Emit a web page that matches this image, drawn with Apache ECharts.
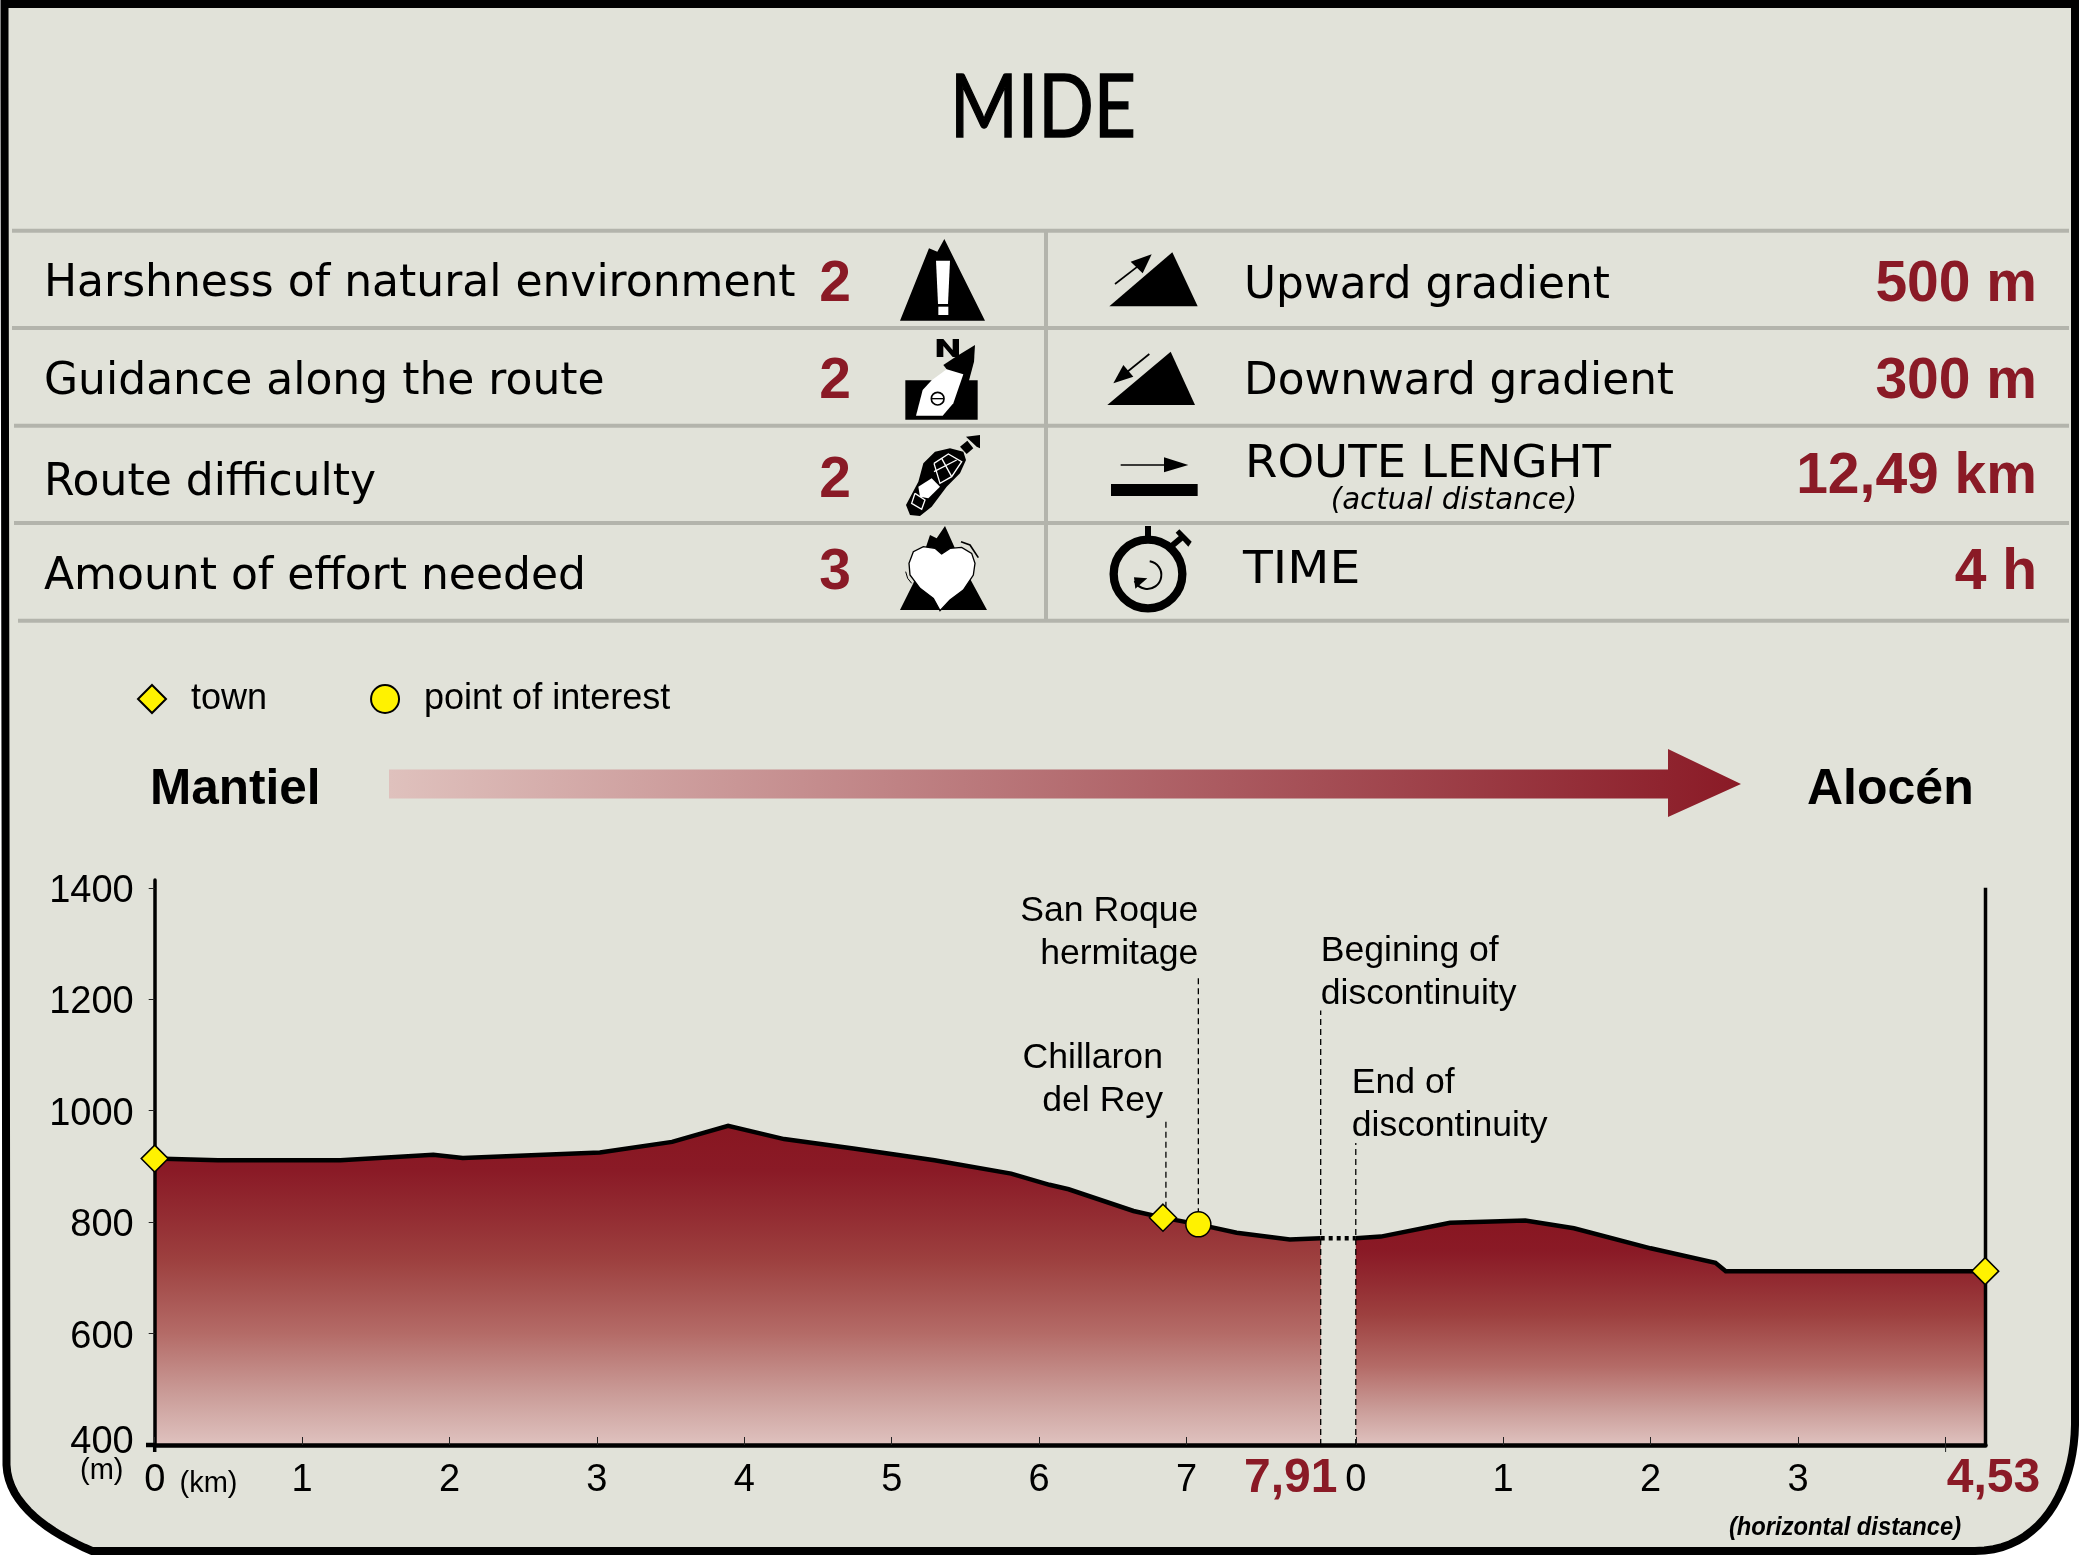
<!DOCTYPE html>
<html><head><meta charset="utf-8">
<style>html,body{margin:0;padding:0;background:#fff}#c{width:2079px;height:1556px}</style>
<script src="https://cdn.jsdelivr.net/npm/echarts@6/dist/echarts.min.js"></script>
</head><body><div id="c"></div>
<script>
// ---------- data ----------
const titleText = 'MIDE';
const mideLabels = ['Harshness of natural environment','Guidance along the route','Route difficulty','Amount of effort needed'];
const mideValues = ['2','2','2','3'];
const routeLabels = ['Upward gradient','Downward gradient','ROUTE LENGHT','TIME'];
const routeNote = '(actual distance)';
const routeValues = ['500 m','300 m','12,49 km','4 h'];
const startTown = 'Mantiel';
const endTown = 'Alocén';
const yTicks = [400,600,800,1000,1200,1400];
const firstKm  = [0,0.43,1.26,1.89,2.09,3.02,3.51,3.89,4.27,4.74,5.29,5.81,6.07,6.2,6.64,6.84,7.08,7.34,7.7,7.91];
const firstElev= [914,911,911,921,915,925,944,973,949,932,911,887,867,859,820,808,796,781,769,771];
const secondKm  = [0,0.17,0.64,1.15,1.48,2.0,2.44,2.51,4.27];
const secondElev= [771,774,799,803,789,753,727,712,712];
const firstEndLabel = '7,91';
const secondEndLabel = '4,53';
const secondOffset = 8.148;          // gap between both stretches on the shared axis
const kmTicksFirst = [0,1,2,3,4,5,6,7];
const kmTicksSecond = [0,1,2,3,4];
const kmLabelsSecond = [0,1,2,3];
const towns = [[0,914],[6.84,808],[12.418,712]];
const pois = [[7.08,796]];
const notes = [
  {text:'Chillaron\ndel Rey', km:6.86, top:981, base:808, side:'right', dx:-3, dy:9},
  {text:'San Roque\nhermitage', km:7.08, top:1238, base:796, side:'right', dx:0, dy:5},
  {text:'Begining of\ndiscontinuity', km:7.91, top:1180, base:400, side:'left', dx:0, dy:13},
  {text:'End of\ndiscontinuity', km:8.148, top:942, base:400, side:'left', dx:-4, dy:12}
];
// ---------- style ----------
const BG='#e1e2d9', MAROON='#8a1a26', LINE='#b3b4ac', YEL='#fff200';
const ARIAL='"Liberation Sans",Arial,sans-serif', DV='"DejaVu Sans",Verdana,sans-serif';
const X0=154.7, X1=1985.5, YT=880, YB=1445;
const xEnd=12.42, yMin=400, yMax=1414;

function txt(x,base,s,size,o){o=o||{};return {type:'text',x:x,y:base+4.5-0.35*size,scaleX:o.sx||1,z:3,style:{text:s,fill:o.fill||'#000',
  font:(o.style||'')+' '+(o.weight||'normal')+' '+size+'px '+(o.family||DV),textAlign:o.align||'left',textVerticalAlign:'middle',verticalAlign:'middle'}};}
function bez(p0,c1,c2,p3,n){const r=[];for(let i=1;i<=n;i++){const t=i/n,u=1-t;r.push([
  u*u*u*p0[0]+3*u*u*t*c1[0]+3*u*t*t*c2[0]+t*t*t*p3[0],
  u*u*u*p0[1]+3*u*u*t*c1[1]+3*u*t*t*c2[1]+t*t*t*p3[1]]);}return r;}
const framePts=[[4.5,4],[2075,4],[2075,1425]]
  .concat(bez([2075,1425],[2074,1490],[2040,1551],[1975,1551],20))
  .concat([[92,1551]])
  .concat(bez([92,1551],[50,1533],[8,1505],[6.5,1465],16))
  .concat([[4.5,88]]);
const P=(pts,fill,extra)=>Object.assign({type:'polygon',shape:{points:pts},style:{fill:fill||'#000'}},extra||{});
const L=(pts,w,col)=>({type:'polyline',shape:{points:pts},style:{fill:null,stroke:col||'#000',lineWidth:w}});
const icons={type:'group',x:860,y:230,scaleX:1/3,scaleY:1/3,z:3,children:[
  // harshness
  P([[120,272],[207,55],[232,65],[253,27],[375,272]]),
  P([[228,92],[270,92],[264,222],[234,222]],'#fff'),P([[235,230],[265,230],[265,255],[235,255]],'#fff'),
  // guidance
  P([[136,451],[353,451],[353,569],[136,569]]),
  P([[345,345],[342,395],[322,470],[260,418],[250,405],[285,382]]),
  P([[215,451],[260,418],[310,433],[280,520],[248,557],[168,557],[188,480]],'#fff'),
  {type:'circle',shape:{cx:233,cy:506,r:19},style:{fill:null,stroke:'#000',lineWidth:5}},L([[215,506],[251,506]],4),
  P([[230,327],[250,327],[278,360],[278,327],[297,327],[297,381],[278,381],[250,348],[250,381],[230,381]]),
  // difficulty
  P([[138,825],[175,755],[190,700],[225,665],[270,655],[310,665],[318,690],[300,730],[260,770],[215,830],[180,858],[150,855]]),
  P([[300,650],[322,632],[340,655],[320,672]]),P([[318,620],[360,615],[360,655],[350,650]]),
  P([[175,770],[215,745],[240,770],[205,805],[180,800]],'#fff'),
  L([[222,700],[265,672],[305,695],[275,740],[240,760],[222,700]],4,'#fff'),L([[245,685],[275,740]],4,'#fff'),L([[222,725],[290,690]],4,'#fff'),
  L([[165,790],[195,810],[185,838],[155,820],[165,790]],4,'#fff'),
  // effort
  P([[120,1140],[160,1060],[200,945],[210,915],[230,925],[255,888],[305,1000],[381,1140]]),
  {type:'polygon',shape:{points:[[245,972],[225,955],[190,950],[160,965],[147,1000],[150,1035],[180,1075],[220,1105],[240,1142],[270,1110],[310,1080],[340,1035],[345,1000],[335,970],[305,952],[270,955]]},style:{fill:'#fff',stroke:'#000',lineWidth:4}},
  L([[303,935],[330,945],[355,983]],5),L([[137,1025],[143,1045],[155,1060]],3),
  // upward
  P([[748,229],[937,67],[1013,229]]),L([[765,162],[845,100]],5),P([[875,73],[812,95],[848,130]]),
  // downward
  P([[742,525],[932,365],[1005,525]]),L([[868,372],[790,435]],5),P([[760,460],[790,405],[820,440]]),
  // length
  L([[782,705],[915,705]],5),P([[912,682],[985,705],[912,727]]),P([[753,762],[1013,762],[1013,798],[753,798]]),
  // time
  {type:'circle',shape:{cx:864,cy:1032,r:103},style:{fill:null,stroke:'#000',lineWidth:25}},
  P([[855,888],[873,888],[873,925],[855,925]]),L([[935,948],[968,920]],18),
  P([[947,908],[958,898],[995,935],[985,950]]),
  {type:'arc',shape:{cx:862,cy:1035,r:42,startAngle:-1.4,endAngle:2.7},style:{fill:null,stroke:'#000',lineWidth:6}},
  P([[822,1042],[862,1045],[826,1076]])
]};
const rowsY=[230.7,328,425.7,523,620.7];
const tableLines=rowsY.map((y,i)=>({type:'line',z:1,shape:{x1:[12,12,14,14,18][i],y1:y,x2:2069,y2:y},style:{stroke:LINE,lineWidth:4}}));
tableLines.push({type:'line',z:1,shape:{x1:1046,y1:230,x2:1046,y2:620},style:{stroke:LINE,lineWidth:4}});
const leftBase=[295,393,494,588], rightBase=[297.7,393.3,476.7,582], valBaseL=[301,397.7,497,589], valBaseR=[301,397.7,492.7,589];
const rightX=[1244,1244,1245,1243], rightSx=[0.995,0.995,1.06,1.11];
const graphicEls=[
  P(framePts,BG,{z:-2,style:{fill:BG,stroke:'#000',lineWidth:8}}),
  {type:'group',x:1043,y:139-0.35*88,scaleX:0.83,scaleY:1,z:3,children:[{type:'text',x:0,y:0,style:{text:titleText,font:'88px Lato,sans-serif',fill:'#000',stroke:'#000',lineWidth:1.5,textAlign:'center',textVerticalAlign:'middle',verticalAlign:'middle'}}]}
].concat(tableLines,[icons]);
mideLabels.forEach((s,i)=>{graphicEls.push(txt(44,leftBase[i],s,44));graphicEls.push(txt(835,valBaseL[i],mideValues[i],57,{family:ARIAL,weight:'bold',fill:MAROON,align:'center'}));});
routeLabels.forEach((s,i)=>{graphicEls.push(txt(rightX[i],rightBase[i],s,44,{sx:rightSx[i]}));graphicEls.push(txt(2037,valBaseR[i],routeValues[i],57,{family:ARIAL,weight:'bold',fill:MAROON,align:'right'}));});
graphicEls.push(txt(1454,506.7,routeNote,29.3,{style:'italic',align:'center'}));
graphicEls.push(txt(150,802.7,startTown,49.5,{family:ARIAL,weight:'bold'}));
graphicEls.push(txt(1807,803.5,endTown,50,{family:ARIAL,weight:'bold'}));
graphicEls.push({type:'polygon',z:1,shape:{points:[[389,769.5],[1668,769.5],[1668,749],[1741,784],[1668,817],[1668,798.5],[389,798.5]]},
  style:{fill:{type:'linear',x:0,y:0,x2:1,y2:0,colorStops:[{offset:0,color:'#dfc1bd'},{offset:1,color:MAROON}]}}});
graphicEls.push(txt(80,1476.7,'(m)',29,{family:ARIAL}));
graphicEls.push(txt(179.5,1490,'(km)',29,{family:ARIAL}));
graphicEls.push(txt(1845,1532,'(horizontal distance)',25,{family:ARIAL,weight:'bold',style:'italic',align:'center',sx:0.95}));
graphicEls.push({type:'line',z:9,shape:{x1:146,y1:1445,x2:155,y2:1445},style:{stroke:'#000',lineWidth:4.5}});
graphicEls.push({type:'line',z:9,shape:{x1:154.7,y1:1445,x2:154.7,y2:1452},style:{stroke:'#000',lineWidth:3.5}});
graphicEls.push({type:'line',z:9,shape:{x1:1945.6,y1:1445,x2:1945.6,y2:1452},style:{stroke:'#222',lineWidth:1}});

const areaStops=[[0,'#881621'],[0.14,'#8a1a26'],[0.28,'#932c32'],[0.42,'#9d403f'],[0.65,'#b46b67'],[0.84,'#ca9c98'],[1,'#dfc2bf']];
const areaSeries=(name,xs,ys,off)=>({type:'line',name:name,symbol:'none',z:3,animation:false,
  data:xs.map((x,i)=>[x+off,ys[i]]),lineStyle:{color:'#000',width:4.5,join:'miter'},
  areaStyle:{origin:'start',opacity:1,color:{type:'linear',x:0,y:0,x2:0,y2:1,colorStops:areaStops.map(s=>({offset:s[0],color:s[1]}))}}});
const series=[
  areaSeries('first',firstKm,firstElev,0),
  areaSeries('second',secondKm,secondElev,secondOffset),
  {type:'line',name:'gap',symbol:'none',z:3,data:[[7.91,firstElev[firstElev.length-1]],[secondOffset,secondElev[0]]],lineStyle:{color:'#000',width:4.5,type:[4,4]}},
  {type:'line',name:'end',symbol:'none',z:4,data:[[xEnd,400],[xEnd,1400]],lineStyle:{color:'#000',width:3.5},clip:false}
];
notes.forEach(n=>series.push({type:'line',name:'leader '+n.km,symbol:'none',z:4,data:[[n.km,n.base],[n.km,n.top]],lineStyle:{color:'#000',width:1.3,type:[6,4]}}));
series.push({type:'scatter',name:'notes',z:5,symbolSize:1,clip:false,itemStyle:{color:'transparent',opacity:1},silent:true,
  data:notes.map(n=>({value:[n.km,n.top],label:{show:true,position:'top',formatter:n.text,align:n.side,distance:7,offset:[n.dx,n.dy],
    fontFamily:ARIAL,fontSize:35.6,lineHeight:43,color:'#000'}})).concat([
    {value:[7.91,400],label:{show:true,position:'bottom',formatter:firstEndLabel,align:'center',offset:[-30,0],distance:9,fontFamily:ARIAL,fontWeight:'bold',fontSize:48,color:MAROON}},
    {value:[xEnd,400],label:{show:true,position:'bottom',formatter:secondEndLabel,align:'center',offset:[8,0],distance:9,fontFamily:ARIAL,fontWeight:'bold',fontSize:48,color:MAROON}}
  ])});
series.push({type:'scatter',name:'town',z:6,symbol:'diamond',symbolSize:[27,27],clip:false,data:towns,itemStyle:{color:YEL,borderColor:'#000',borderWidth:1.5,opacity:1}});
series.push({type:'scatter',name:'point of interest',z:6,symbol:'circle',symbolSize:25,clip:false,data:pois,itemStyle:{color:YEL,borderColor:'#000',borderWidth:1.5,opacity:1}});

const xTickValues=kmTicksFirst.concat(kmTicksSecond.map(k=>k+secondOffset));
const xLabelValues=kmTicksFirst.concat(kmLabelsSecond.map(k=>k+secondOffset));
const option={
  animation:false,backgroundColor:'#fff',
  graphic:{elements:graphicEls},
  legend:{left:132,top:676,selectedMode:false,itemWidth:28,itemHeight:28,itemGap:103,
    data:[{name:'town',icon:'diamond'},{name:'point of interest',icon:'circle'}],
    textStyle:{fontFamily:ARIAL,fontSize:36,color:'#000',padding:[0,0,0,20]}},
  grid:{left:X0,right:2079-X1,top:YT,bottom:1556-YB,containLabel:false},
  xAxis:{type:'value',min:0,max:xEnd,z:5,splitLine:{show:false},
    axisLine:{lineStyle:{color:'#000',width:4.5}},
    axisTick:{inside:true,length:8,customValues:xTickValues,lineStyle:{color:'#222',width:1}},
    axisLabel:{customValues:xLabelValues,margin:17,fontFamily:ARIAL,fontSize:38,color:'#000',
      formatter:v=>String(v<secondOffset-0.01?Math.round(v):Math.round(v-secondOffset))}},
  yAxis:{type:'value',min:yMin,max:yMax,z:5,splitLine:{show:false},
    axisLine:{onZero:false,lineStyle:{color:'#000',width:3.5}},
    axisTick:{length:6,customValues:yTicks,lineStyle:{color:'#222',width:1}},
    axisLabel:{customValues:yTicks,margin:21,fontFamily:ARIAL,fontSize:38,color:'#000',padding:[7,0,0,0],
      formatter:v=>v===400?'{low|400}':String(v),rich:{low:{fontFamily:ARIAL,fontSize:38,color:'#000',padding:[0,0,12,0]}}}},
  series:series
};
const chart=echarts.init(document.getElementById('c'),null,{renderer:'canvas',width:2079,height:1556});
chart.setOption(option);
</script></body></html>
